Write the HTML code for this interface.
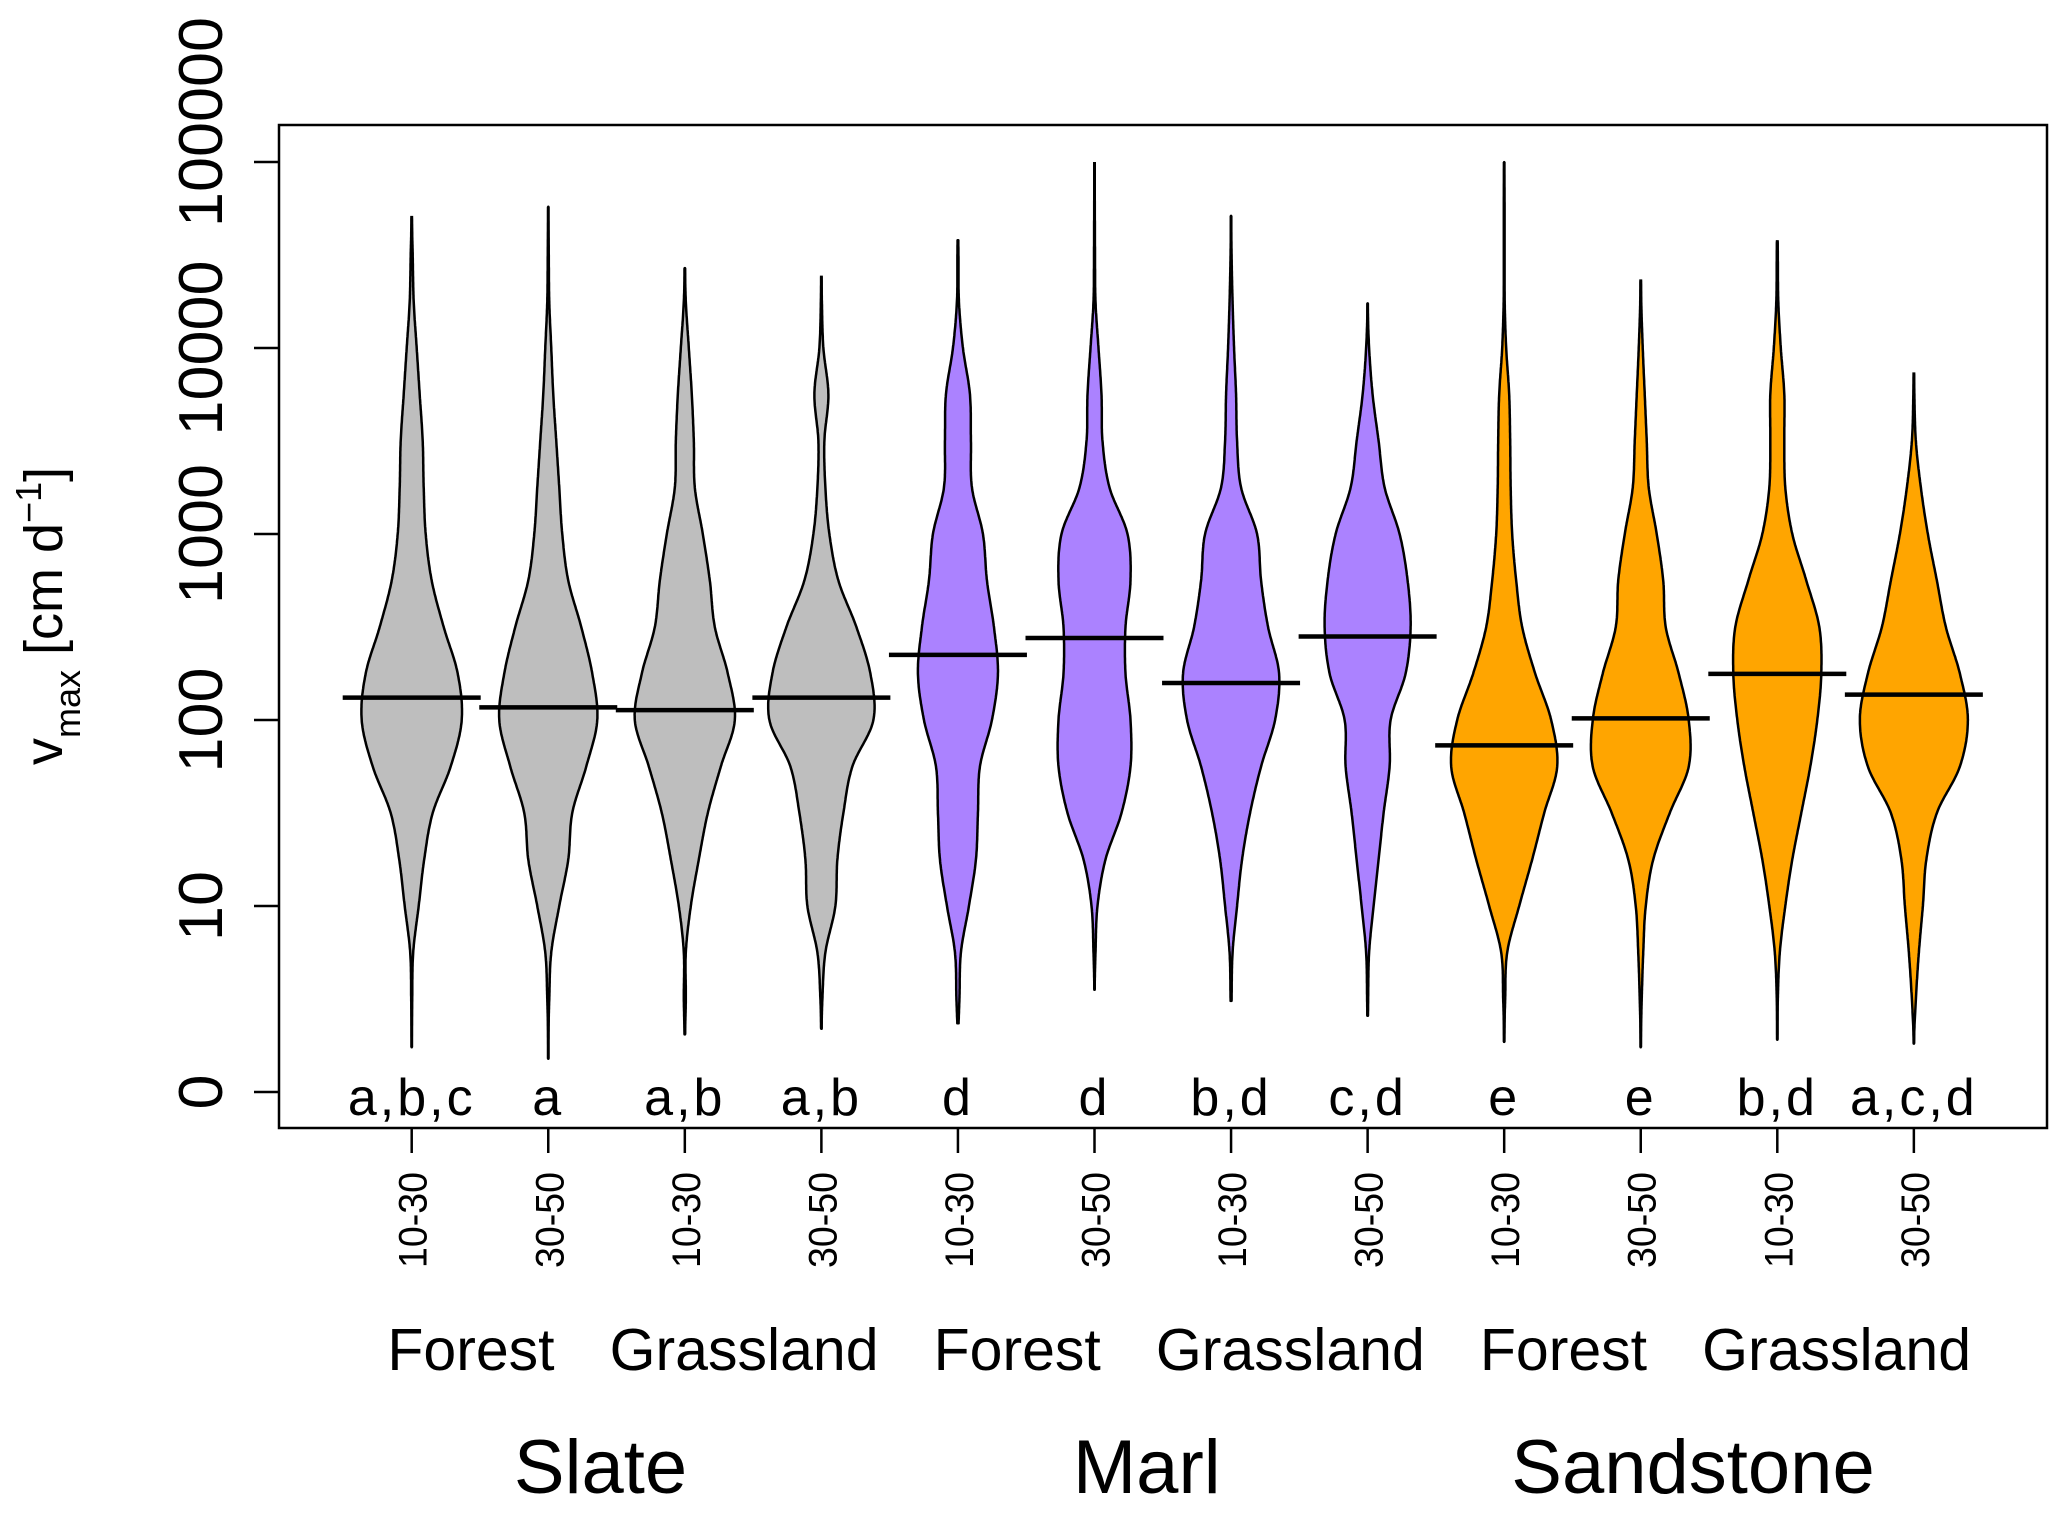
<!DOCTYPE html>
<html><head><meta charset="utf-8"><style>
html,body{margin:0;padding:0;background:#fff;}
svg{display:block;font-family:"Liberation Sans",Arial,sans-serif;}
</style></head><body>
<svg id="chart" width="2067" height="1513" viewBox="0 0 2067 1513" xmlns="http://www.w3.org/2000/svg">
<rect x="0" y="0" width="2067" height="1513" fill="#fff"/>
<g id="violins"></g>
<g id="axes"></g>
<rect x="279" y="125" width="1768" height="1003" fill="none" stroke="#000" stroke-width="2.5"/>
<text transform="translate(62,765) rotate(-90)" font-size="54">v<tspan font-size="36" dy="18">max</tspan><tspan dy="-18"> [cm d</tspan><tspan font-size="36" dy="-21">−1</tspan><tspan dy="21">]</tspan></text>
</svg>
<script>
const categories = ["10-30","30-50","10-30","30-50","10-30","30-50","10-30","30-50","10-30","30-50","10-30","30-50"];
const landUse = ["Forest","Grassland","Forest","Grassland","Forest","Grassland"];
const geology = ["Slate","Marl","Sandstone"];
const letters = ["a,b,c","a","a,b","a,b","d","d","b,d","c,d","e","e","b,d","a,c,d"];
const medians = [132,117,113,132,224,276,158,281,73,102,177,137];
const minVals = [1.74,1.51,2.04,2.19,2.34,3.55,3.09,2.57,1.86,1.74,1.91,1.82];
const maxVals = [51300,57500,26900,24500,38000,100000,51300,17400,100000,23400,38000,7400];
const tickValues = [1,10,100,1000,10000,100000];
const tickLabels = ["0","10","100","1000","10000","100000"];
// density half-widths on log10 grid 0,0.25,...,5
const dens0 = [0,0,0.5,1.5,7,12.5,21,39,50,46,32,20,14,12,11,8,5,2,1,0,0];
const dens1 = [0,0,1,3,11,20,24,38,49,44,33,20,14,11,8,5,3,1,0.5,0,0];
const dens2 = [0,0,1,1,6,14,23,36,50,43,30,25,18,10,9,7,4,1,0,0,0];
const dens3 = [0,0,1,4,14,16,22,31,52,49,35,17,8,4,3,7,2,0.5,0,0,0];
const dens4 = [0,0,1.5,3,11,18,20,22,34,40,36,29,25,14,13,12,5,1,0.5,0,0];
const dens5 = [0,0,0,1,3,11,27,36,36,31,31,36,33,15,8,7,4,1,0.5,0.3,0];
const dens6 = [0,0,0.5,1.5,6,11,19,30,44,48,37,30,26,10,6,5,3,1.5,0.5,0,0];
const dens7 = [0,0,0.5,1.5,6,11,16,22,23,38,43,40,32,17,11,5,1.5,0,0,0,0];
const dens8 = [0,0,1,3,15,28,40,53,47,31,18,12,8,6.5,6,5,2,0.5,0.3,0.3,0];
const dens9 = [0,0,1,2.5,5,12.5,29,48,48,38,25,22.5,16,8,6,4,2,0.5,0,0,0];
const dens10 = [0,0,0.5,2.5,8,15,24,33,40,44,42,29,15,8,7,7,3.5,1,0.5,0,0];
const dens11 = [0,0,2,5,9,12.5,23,46,54,46,32,23,14,7,2,0.5,0,0,0,0,0];
const densities = [dens0,dens1,dens2,dens3,dens4,dens5,dens6,dens7,dens8,dens9,dens10,dens11];
const groupColors = ["#bebebe","#ab82ff","#ffa500"];

const NS = "http://www.w3.org/2000/svg";
function xScale(i){ return 411.7 + i*136.56; }
function yScale(v){ return 1092 - 186*Math.log10(v); }
function mk(tag, attrs, parent){ const e=document.createElementNS(NS,tag); for(const k in attrs) e.setAttribute(k,attrs[k]); parent.appendChild(e); return e; }
function densAt(d, L){
  const t=L/0.25; const i=Math.floor(t); const f=t-i;
  const g=k=>d[Math.max(0,Math.min(d.length-1,k))];
  const p0=g(i-1),p1=g(i),p2=g(i+1),p3=g(i+2);
  const v=0.5*((2*p1)+(-p0+p2)*f+(2*p0-5*p1+4*p2-p3)*f*f+(-p0+3*p1-3*p2+p3)*f*f*f);
  return Math.max(0,v);
}
const vg=document.getElementById('violins');
const ax=document.getElementById('axes');
categories.forEach((c,i)=>{
  const cx=xScale(i); const d=densities[i];
  const lo=Math.log10(minVals[i]), hi=Math.log10(maxVals[i]);
  const wl=mk('line',{x1:cx,x2:cx,y1:yScale(minVals[i]),y2:yScale(maxVals[i]),stroke:'#000','stroke-width':3},vg);
  
  
  const right=[], left=[];
  for(let L=lo; L<=hi+1e-9; L+=0.01){ const w=densAt(d,L); const y=yScale(Math.pow(10,L)); right.push((cx+w).toFixed(1)+","+y.toFixed(1)); left.push((cx-w).toFixed(1)+","+y.toFixed(1)); }
  const pts=right.concat(left.reverse());
  const poly=mk('polygon',{points:pts.join(' '),fill:groupColors[Math.floor(i/4)],stroke:'#000','stroke-width':2.5,'stroke-linejoin':'round'},vg);
  
  
  const ml=mk('line',{x1:cx-69,x2:cx+69,y1:yScale(medians[i]),y2:yScale(medians[i]),stroke:'#000','stroke-width':4.5},vg);
  
  
  const lt=mk('text',{x:cx,y:1115,'font-size':52,'text-anchor':'middle','letter-spacing':3},ax);
  lt.textContent=letters[i];
  
  
  const tk=mk('line',{x1:cx,x2:cx,y1:1128,y2:1153,stroke:'#000','stroke-width':2.5},ax);
  
  
  const tl=mk('text',{transform:`translate(${cx+15},1172) rotate(-90)`,'font-size':40,'text-anchor':'end',textLength:96,lengthAdjust:'spacingAndGlyphs'},ax);
  tl.textContent=c;
  
  
});
landUse.forEach((u,j)=>{
  const cx=(xScale(2*j)+xScale(2*j+1))/2-9;
  const t=mk('text',{x:cx,y:1370,'font-size':59,'text-anchor':'middle'},ax);
  t.textContent=u;
  
  
});
geology.forEach((g,j)=>{
  const cx=(xScale(4*j+1)+xScale(4*j+2))/2-16;
  const t=mk('text',{x:cx,y:1493,'font-size':76,'text-anchor':'middle'},ax);
  t.textContent=g;
  
  
});
tickValues.forEach((v,k)=>{
  const y=yScale(v);
  const l=mk('line',{x1:254,x2:279,y1:y,y2:y,stroke:'#000','stroke-width':2.5},ax);
  
  
  const lab=tickLabels[k];
  const len=35*lab.length;
  const cy = (k===tickValues.length-1) ? y-40 : y;
  const t=mk('text',{transform:`translate(222,${cy}) rotate(-90)`,'font-size':62,'text-anchor':'middle',textLength:len,lengthAdjust:'spacingAndGlyphs'},ax);
  t.textContent=lab;
  
  
});
</script>
</body></html>
